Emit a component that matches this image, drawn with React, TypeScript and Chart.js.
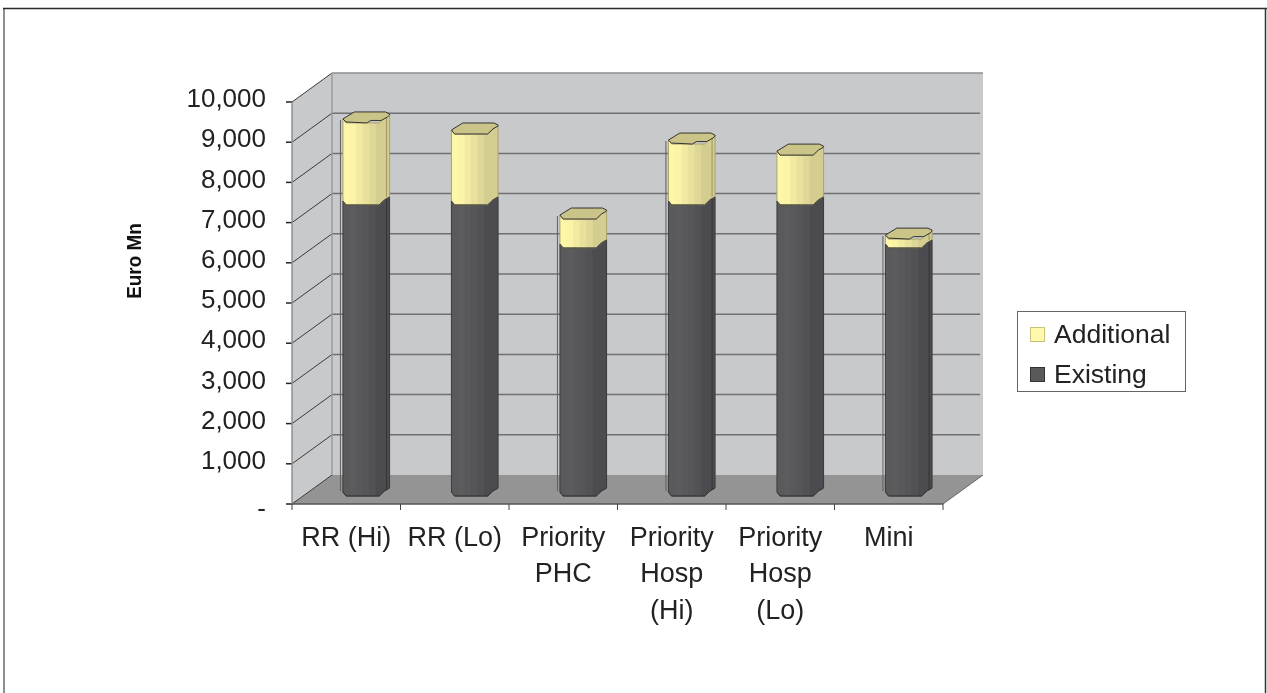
import React, { useEffect, useRef } from "react";
import { Chart, registerables } from "chart.js";

Chart.register(...registerables);

const categories = [
  "RR (Hi)",
  "RR (Lo)",
  ["Priority", "PHC"],
  ["Priority", "Hosp", "(Hi)"],
  ["Priority", "Hosp", "(Lo)"],
  "Mini",
];
const existing = [7240, 7240, 6170, 7240, 7240, 6170];
const additional = [2040, 1765, 720, 1515, 1240, 220];
const yTicks = [0, 1000, 2000, 3000, 4000, 5000, 6000, 7000, 8000, 9000, 10000];

const FONT = "'Liberation Sans', Arial, sans-serif";
const WALL = "#c8c9cb";
const FLOOR = "#949494";
const DEPTH_X = 40;
const DEPTH_Y = -29;
// The tick labels sit a little above the floor plane of the box.
const PLANE_DROP = 2;
// Bars stand part of the way into the box.
const BAR_SHIFT_X = 20;
const BAR_SHIFT_Y = -6;
// Columns whose cap has a stepped front edge and a doubled outline.
const STEPPED = [0, 3, 5];

const yellowBands = ["#fff7a8", "#fbf3a6", "#f2eaa2", "#e8e19c", "#ded797", "#d4cd8f"];
const darkBands = ["#5a5a5c", "#5c5c5e", "#59595b", "#565658", "#525254", "#4c4c50"];

const line = (ctx: any, x1: number, y1: number, x2: number, y2: number, color: string, w = 1) => {
  ctx.strokeStyle = color;
  ctx.lineWidth = w;
  ctx.beginPath();
  ctx.moveTo(x1, y1);
  ctx.lineTo(x2, y2);
  ctx.stroke();
};

const poly = (ctx: any, pts: number[][], fill?: string, stroke?: string, w = 1) => {
  ctx.beginPath();
  pts.forEach((p, i) => (i ? ctx.lineTo(p[0], p[1]) : ctx.moveTo(p[0], p[1])));
  ctx.closePath();
  if (fill) {
    ctx.fillStyle = fill;
    ctx.fill();
  }
  if (stroke) {
    ctx.strokeStyle = stroke;
    ctx.lineWidth = w;
    ctx.stroke();
  }
};

const polyline = (ctx: any, pts: number[][], stroke: string, w = 1) => {
  ctx.beginPath();
  pts.forEach((p, i) => (i ? ctx.lineTo(p[0], p[1]) : ctx.moveTo(p[0], p[1])));
  ctx.strokeStyle = stroke;
  ctx.lineWidth = w;
  ctx.stroke();
};

// Outer frame, walls, floor and gridlines of the pseudo-3D box.
const boxPlugin = {
  id: "box",
  beforeDatasetsDraw(chart: any) {
    const { ctx, chartArea: a, scales } = chart;
    const y = scales.y;
    const yOf = (v: number) => y.getPixelForValue(v) + PLANE_DROP;
    const L = a.left;
    const R = a.right;
    const top = yOf(10000);
    const bot = yOf(0);
    ctx.save();
    poly(ctx, [[L, top], [L + DEPTH_X, top + DEPTH_Y], [L + DEPTH_X, bot + DEPTH_Y], [L, bot]], WALL);
    poly(ctx, [[L + DEPTH_X, top + DEPTH_Y], [R + DEPTH_X, top + DEPTH_Y], [R + DEPTH_X, bot + DEPTH_Y], [L + DEPTH_X, bot + DEPTH_Y]], WALL);
    poly(ctx, [[L, bot], [L + DEPTH_X, bot + DEPTH_Y], [R + DEPTH_X, bot + DEPTH_Y], [R, bot]], FLOOR);
    yTicks.forEach((v) => {
      const py = yOf(v);
      if (v > 0 && v < 10000) line(ctx, L + DEPTH_X, py + DEPTH_Y, R + DEPTH_X - 3, py + DEPTH_Y, "#6f7072", 1.5);
      line(ctx, L, py, L + DEPTH_X, py + DEPTH_Y, "#3a3a3a", 1);
      line(ctx, L - 6, py, L, py, "#222", 1.5);
    });
    line(ctx, L + DEPTH_X, top + DEPTH_Y, R + DEPTH_X, top + DEPTH_Y, "#8e8f91", 1.5);
    line(ctx, L + DEPTH_X, top + DEPTH_Y, L + DEPTH_X, bot + DEPTH_Y, "#9a9b9d", 1.5);
    line(ctx, L, bot, L, top, "#8e8f91", 1.5);
    line(ctx, L, bot, R, bot, "#555", 1.5);
    line(ctx, R, bot, R + DEPTH_X, bot + DEPTH_Y, "#666", 1);
    const step = (R - L) / categories.length;
    categories.forEach((_, i) => line(ctx, L + step * i, bot, L + step * i, bot + 6, "#444", 1));
    line(ctx, R, bot, R, bot + 6, "#444", 1);
    ctx.restore();
  },
  beforeDraw(chart: any) {
    const { ctx } = chart;
    ctx.save();
    ctx.fillStyle = "#fff";
    ctx.fillRect(0, 0, chart.width, chart.height);
    line(ctx, 4, 8, 4, 693, "#8f8f8f", 2);
    line(ctx, 3, 8.5, 1267, 8.5, "#2a2a2a", 1.5);
    line(ctx, 1265.5, 8, 1265.5, 693, "#333", 1.5);
    ctx.restore();
  },
};

const capPoints = (l: number, w: number, y: number, stepped: boolean) => {
  const k = w / 45;
  const front = stepped
    ? [[l + 3 * k, y - 1], [l + 23 * k, y], [l + 27 * k, y - 2.5], [l + 37 * k, y - 2.5], [l + 43 * k, y - 6]]
    : [[l + 3 * k, y], [l + 35 * k, y], [l + 40 * k, y - 5]];
  return [
    [l, y - 4],
    ...front,
    [l + 45 * k, y - 8],
    [l + 45 * k, y - 9],
    [l + 41 * k, y - 11],
    [l + 11 * k, y - 11],
  ];
};

// One section of the octagonal column, between two pixel levels.
const drawSection = (
  ctx: any,
  l: number,
  w: number,
  yTop: number,
  yBot: number,
  bands: string[],
  sideStroke: string,
) => {
  const k = w / 45;
  const lowerEdge = [
    [l + 45 * k, yBot - 8],
    [l + 40 * k, yBot - 5],
    [l + 35 * k, yBot],
    [l + 3 * k, yBot],
    [l, yBot - 4],
  ];
  const outline = [
    [l, yTop - 4],
    [l + 3 * k, yTop],
    [l + 35 * k, yTop],
    [l + 40 * k, yTop - 5],
    [l + 45 * k, yTop - 8],
    ...lowerEdge,
  ];
  ctx.save();
  poly(ctx, outline);
  ctx.clip();
  const bandW = (38 * k) / bands.length;
  bands.forEach((c, i) => {
    ctx.fillStyle = c;
    ctx.fillRect(l + i * bandW, yTop - 12, bandW + 1, yBot - yTop + 14);
  });
  ctx.fillStyle = bands[bands.length - 1];
  ctx.fillRect(l + 38 * k, yTop - 12, 7 * k + 1, yBot - yTop + 14);
  ctx.restore();
  poly(ctx, outline, undefined, sideStroke, 1);
  polyline(ctx, lowerEdge, "#3a3a3a", 1);
};

// Columns replace the library's flat rectangles and take their geometry from them.
const columnPlugin = {
  id: "columns",
  beforeDatasetDraw() {
    return false;
  },
  afterDatasetsDraw(chart: any) {
    const { ctx } = chart;
    const lower = chart.getDatasetMeta(0).data;
    const upper = chart.getDatasetMeta(1).data;
    ctx.save();
    ctx.translate(BAR_SHIFT_X, BAR_SHIFT_Y);
    lower.forEach((bar: any, i: number) => {
      const w = bar.width;
      const l = bar.x - w / 2;
      const top = upper[i];
      const stepped = STEPPED.includes(i);
      if (stepped || i === 2) {
        line(ctx, l - 2.5, top.y - 3, l - 2.5, bar.base - 5, "#5f5f5f", 1);
      }
      drawSection(ctx, l, w, bar.y, bar.base, darkBands, "#3a3a3a");
      drawSection(ctx, l, w, top.y, bar.y, yellowBands, "#aaa470");
      if (stepped) {
        line(ctx, l + w - 3, top.y - 6, l + w - 3, bar.y - 8, "rgba(140,135,90,0.8)", 1);
        line(ctx, l + w - 3, bar.y - 6, l + w - 3, bar.base - 6, "#333", 1);
      }
      poly(ctx, capPoints(l, w, top.y, stepped), "#cbc488", "#333", 1);
    });
    ctx.restore();
  },
};

// Axis caption and framed key on the canvas, top key entry first.
const keyPlugin = {
  id: "key",
  afterDraw(chart: any) {
    const { ctx } = chart;
    ctx.save();
    ctx.save();
    ctx.translate(141, 261);
    ctx.rotate(-Math.PI / 2);
    ctx.scale(0.9, 1);
    ctx.font = `bold 21px ${FONT}`;
    ctx.textAlign = "center";
    ctx.textBaseline = "alphabetic";
    ctx.fillStyle = "#111";
    ctx.fillText("Euro Mn", 0, 0);
    ctx.restore();
    ctx.fillStyle = "#fff";
    ctx.fillRect(1018, 311, 168, 80);
    ctx.strokeStyle = "#666";
    ctx.lineWidth = 1;
    ctx.strokeRect(1017.5, 311.5, 168, 80);
    ctx.font = `26.5px ${FONT}`;
    ctx.textBaseline = "middle";
    const items = [...chart.data.datasets].reverse();
    items.forEach((d: any, i: number) => {
      const cy = 334.5 + i * 40;
      ctx.fillStyle = d.backgroundColor;
      ctx.strokeStyle = d.borderColor;
      ctx.lineWidth = 1;
      ctx.fillRect(1030.5, cy - 7, 14, 14);
      ctx.strokeRect(1030.5, cy - 7, 14, 14);
      ctx.fillStyle = "#222";
      ctx.fillText(d.label, 1054, cy + 1);
    });
    ctx.restore();
  },
};

export default function App() {
  const ref = useRef<HTMLCanvasElement>(null);
  useEffect(() => {
    const chart = new Chart(ref.current as HTMLCanvasElement, {
      type: "bar",
      data: {
        labels: categories as any,
        datasets: [
          {
            label: "Existing",
            data: existing,
            backgroundColor: "#595959",
            borderColor: "#333333",
          },
          {
            label: "Additional",
            data: additional,
            backgroundColor: "#fff9ae",
            borderColor: "#c9c27a",
          },
        ],
      },
      options: {
        animation: false,
        responsive: false,
        layout: { padding: { left: 118, right: 324, top: 100, bottom: 0 } },
        datasets: { bar: { barPercentage: 0.43, categoryPercentage: 1 } },
        plugins: { legend: { display: false }, tooltip: { enabled: false } },
        scales: {
          x: {
            stacked: true,
            grid: { display: false, drawTicks: false },
            border: { display: false },
            afterFit(s: any) {
              s.height = 191;
            },
            ticks: {
              autoSkip: false,
              maxRotation: 0,
              minRotation: 0,
              padding: 18,
              color: "#222",
              font: { family: FONT, size: 27, lineHeight: 1.35 },
            },
          },
          y: {
            stacked: true,
            min: 0,
            max: 10000,
            grid: { display: false, drawTicks: false },
            border: { display: false },
            afterFit(s: any) {
              s.width = 174;
            },
            afterBuildTicks(s: any) {
              s.ticks = yTicks.map((value) => ({ value }));
            },
            ticks: {
              padding: 26,
              color: "#222",
              // A tight line height on the two-line zero label lowers its dash.
              font: (c: any) => ({
                family: FONT,
                size: 26,
                lineHeight: c.tick && c.tick.value === 0 ? 0.6 : 1.2,
              }),
              callback: (v: any) => (v === 0 ? ["", "-"] : Number(v).toLocaleString("en-US")),
            },
          },
        },
      },
      plugins: [boxPlugin, columnPlugin, keyPlugin],
    } as any);
    return () => chart.destroy();
  }, []);
  return (
    <div style={{ position: "absolute", left: 0, top: 0, width: 1267, height: 693 }}>
      <canvas ref={ref} width={1267} height={693} style={{ display: "block" }} />
    </div>
  );
}
